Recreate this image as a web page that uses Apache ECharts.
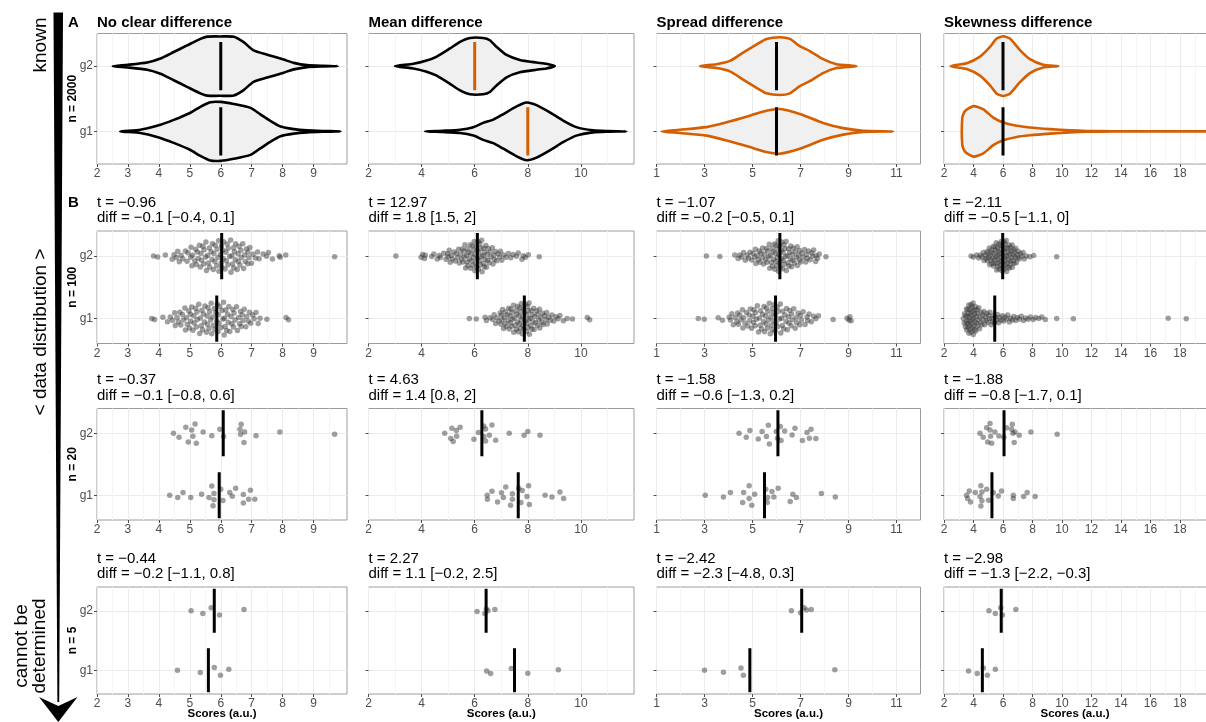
<!DOCTYPE html>
<html><head><meta charset="utf-8">
<script src="https://cdn.jsdelivr.net/npm/echarts@6/dist/echarts.min.js"></script>
<style>html,body{margin:0;padding:0;background:#fff}#c{width:1206px;height:722px}</style>
</head><body><div id="c"></div><script>
// ================= DATA =================
const panelTitles = ['No clear difference','Mean difference','Spread difference','Skewness difference'];
const groupNames = ['g1','g2'];
const sampleSizeLabels = ['n = 2000','n = 100','n = 20','n = 5'];
const xTickLabelsC1 = [2,3,4,5,6,7,8,9];
const xTickLabelsC2 = [2,4,6,8,10];
const xTickLabelsC3 = [1,3,5,7,9,11];
const xTickLabelsC4 = [2,4,6,8,10,12,14,16,18];

// Violin outlines, n = 2000 (score value, half-width in group units)
const violinC1G1X = [2.75,3.4,3.94,4.48,5.02,5.34,5.66,5.99,6.42,6.96,7.28,7.6,7.93,8.36,8.79,9.3,9.87];
const violinC1G1W = [0,0.025,0.085,0.176,0.286,0.377,0.447,0.452,0.42,0.36,0.261,0.161,0.075,0.035,0.015,0.006,0];
const violinC1G2X = [2.51,3.0,3.62,4.05,4.48,4.91,5.34,5.56,6.0,6.42,6.74,7.06,7.5,8.03,8.36,8.79,9.3,9.78];
const violinC1G2W = [0,0.02,0.055,0.116,0.216,0.317,0.417,0.452,0.455,0.45,0.367,0.241,0.176,0.1,0.05,0.015,0.005,0];
const violinC2G1X = [4.13,4.82,5.45,5.95,6.32,6.7,7.08,7.58,7.95,8.33,8.83,9.33,9.83,10.46,11.0,11.71];
const violinC2G1W = [0,0.01,0.025,0.065,0.13,0.18,0.266,0.382,0.442,0.402,0.291,0.166,0.065,0.015,0.005,0];
const violinC2G2X = [3.0,3.69,4.19,4.57,5.07,5.45,5.82,6.32,6.57,6.82,7.2,7.7,8.32,8.7,9.02];
const violinC2G2W = [0,0.035,0.085,0.146,0.271,0.372,0.432,0.432,0.397,0.297,0.171,0.095,0.055,0.035,0];
const violinC3G1X = [1.21,1.97,3.08,3.92,4.89,5.58,6.14,6.97,7.94,8.78,9.61,10.86];
const violinC3G1W = [0,0.025,0.065,0.14,0.241,0.317,0.342,0.266,0.13,0.05,0.01,0];
const violinC3G2X = [2.81,3.5,4.06,4.61,5.17,5.58,6.14,6.56,6.97,7.39,7.94,8.5,9.33];
const violinC3G2W = [0,0.03,0.08,0.206,0.332,0.417,0.442,0.417,0.307,0.231,0.106,0.03,0];
const violinC4G1X = [3.24,3.42,3.99,4.67,5.34,6.02,6.93,7.83,9.19,10.54,11.67,13.5,25];
const violinC4G1W = [0.21,0.31,0.387,0.337,0.211,0.136,0.085,0.06,0.035,0.015,0.006,0.003,0];
const violinC4G2X = [2.45,3.54,4.44,5.12,5.57,6.02,6.47,7.15,7.83,8.73,9.75];
const violinC4G2W = [0,0.045,0.146,0.296,0.422,0.457,0.422,0.246,0.106,0.02,0];
const medianA = [[6,6],[8,6],[6,6],[6,6]]; // [g1, g2] per column

// n = 100 scores
const n100C1G1 = [3.77,3.86,4.13,4.28,4.37,4.44,4.51,4.53,4.59,4.63,4.68,4.71,4.76,4.79,4.84,4.89,4.92,4.97,4.99,5.03,5.06,5.1,5.13,5.14,5.19,5.23,5.24,5.29,5.32,5.34,5.39,5.41,5.44,5.47,5.49,5.54,5.57,5.59,5.62,5.64,5.67,5.71,5.73,5.76,5.79,5.81,5.84,5.87,5.89,5.92,5.94,5.97,6.01,6.04,6.07,6.09,6.12,6.16,6.19,6.22,6.26,6.29,6.33,6.36,6.39,6.43,6.46,6.51,6.54,6.58,6.61,6.64,6.69,6.72,6.76,6.81,6.84,6.89,6.93,6.97,7.03,7.08,7.14,7.21,7.27,7.49,8.11,8.19,5.02,5.56,6.11,5.69,6.41,5.21,6.24,4.86,6.66,5.91,6.14,5.37];
const n100C1G2 = [3.83,3.96,4.21,4.43,4.49,4.57,4.61,4.72,4.77,4.86,4.91,4.94,5.03,5.07,5.09,5.16,5.19,5.21,5.27,5.31,5.34,5.36,5.42,5.45,5.46,5.51,5.52,5.58,5.6,5.63,5.64,5.69,5.72,5.73,5.78,5.81,5.82,5.87,5.88,5.93,5.94,5.99,6.02,6.03,6.08,6.09,6.14,6.17,6.18,6.23,6.24,6.29,6.32,6.33,6.38,6.41,6.42,6.47,6.48,6.53,6.56,6.57,6.62,6.65,6.66,6.71,6.74,6.77,6.79,6.83,6.87,6.91,6.94,6.99,7.04,7.12,7.19,7.24,7.37,7.48,7.54,7.67,7.89,7.92,8.1,9.68,5.38,5.76,6.06,6.36,5.54,6.21,5.91,6.59,5.04,6.88,5.24,6.44,4.66,6.01];
const n100C2G1 = [5.8,6.06,6.39,6.44,6.58,6.68,6.73,6.79,6.84,6.91,6.96,7.01,7.05,7.09,7.12,7.16,7.19,7.23,7.26,7.3,7.33,7.36,7.39,7.42,7.46,7.49,7.52,7.55,7.58,7.61,7.64,7.67,7.7,7.73,7.76,7.79,7.82,7.85,7.88,7.91,7.94,7.97,8.0,8.03,8.06,8.09,8.12,8.15,8.19,8.22,8.26,8.29,8.33,8.37,8.41,8.45,8.49,8.53,8.58,8.63,8.68,8.73,8.79,8.85,8.91,8.98,9.06,9.14,9.21,9.34,9.48,9.68,10.24,10.33,7.4,7.75,8.05,7.57,7.96,8.17,7.28,8.36,7.68,7.84,7.14,8.55,7.99,7.47,8.24,7.03,8.71,7.9,7.62,8.02,6.99,8.44,7.81,7.35,8.13,7.72];
const n100C2G2 = [3.03,3.98,4.04,4.11,4.14,4.38,4.59,4.66,4.71,4.83,4.92,4.98,5.04,5.08,5.16,5.22,5.27,5.31,5.36,5.42,5.47,5.51,5.56,5.59,5.63,5.66,5.71,5.73,5.77,5.8,5.83,5.86,5.88,5.91,5.93,5.96,5.98,6.01,6.03,6.06,6.08,6.11,6.13,6.16,6.18,6.21,6.23,6.26,6.28,6.31,6.34,6.36,6.39,6.42,6.44,6.47,6.51,6.54,6.58,6.61,6.66,6.69,6.74,6.78,6.83,6.88,6.94,7.02,7.09,7.18,7.27,7.36,7.45,7.57,7.64,7.78,7.83,7.91,8.02,8.43,5.74,6.02,6.19,5.94,6.33,5.61,6.09,6.49,5.39,6.24,5.12,6.72,5.85,6.14,5.53,4.46,5.0,6.37,5.69,6.97];
const n100C3G1 = [2.74,2.99,3.57,3.75,4.03,4.08,4.14,4.2,4.28,4.35,4.41,4.47,4.52,4.58,4.63,4.69,4.75,4.8,4.86,4.91,4.96,5.02,5.06,5.11,5.16,5.2,5.25,5.29,5.33,5.38,5.42,5.46,5.5,5.54,5.58,5.62,5.66,5.7,5.74,5.78,5.82,5.86,5.9,5.94,5.98,6.03,6.07,6.12,6.16,6.21,6.26,6.3,6.35,6.4,6.45,6.5,6.55,6.61,6.66,6.72,6.78,6.84,6.9,6.97,7.04,7.11,7.19,7.27,7.36,7.45,7.55,7.64,7.75,8.36,8.94,9.02,9.06,9.11,5.64,5.88,6.05,5.48,6.24,5.32,6.42,5.76,6.63,5.12,4.88,6.82,5.96,4.6,7.0,5.56,6.18,4.38,7.3,5.04,6.52,5.84];
const n100C3G2 = [3.08,3.64,4.26,4.4,4.47,4.55,4.63,4.7,4.78,4.84,4.9,4.97,5.02,5.09,5.14,5.2,5.24,5.31,5.35,5.4,5.46,5.49,5.55,5.58,5.63,5.67,5.7,5.74,5.78,5.81,5.85,5.88,5.91,5.95,5.98,6.01,6.04,6.07,6.1,6.13,6.16,6.19,6.22,6.25,6.28,6.31,6.35,6.38,6.41,6.45,6.48,6.52,6.55,6.59,6.63,6.66,6.7,6.74,6.78,6.83,6.87,6.92,6.96,7.01,7.06,7.11,7.17,7.22,7.28,7.34,7.4,7.47,7.55,7.63,7.71,7.78,8.06,6.12,5.93,6.33,5.72,6.5,6.02,6.21,5.6,6.68,5.83,6.4,6.08,5.97,7.25,6.86,5.28,7.5,6.27,5.12,6.95,7.65,5.42,6.6];
const n100C4G1 = [3.31,3.37,3.39,3.45,3.46,3.51,3.52,3.57,3.58,3.62,3.63,3.67,3.68,3.72,3.73,3.76,3.79,3.8,3.83,3.86,3.87,3.91,3.92,3.96,3.97,4.01,4.03,4.07,4.09,4.13,4.15,4.19,4.21,4.26,4.28,4.33,4.36,4.41,4.44,4.49,4.52,4.57,4.61,4.66,4.7,4.76,4.8,4.86,4.9,4.97,5.01,5.08,5.12,5.19,5.24,5.31,5.36,5.43,5.48,5.56,5.62,5.71,5.78,5.87,5.95,6.05,6.13,6.23,6.32,6.43,6.52,6.63,6.73,6.86,6.97,7.11,7.24,7.39,7.54,7.71,7.86,8.05,8.22,8.43,8.63,8.87,9.64,10.77,17.2,18.42,3.54,3.69,3.84,3.99,4.12,4.27,3.61,3.77,3.94,4.08];
const n100C4G2 = [3.83,3.99,4.22,4.35,4.46,4.58,4.66,4.72,4.79,4.86,4.92,4.98,5.03,5.08,5.13,5.18,5.22,5.26,5.31,5.35,5.38,5.42,5.46,5.5,5.53,5.57,5.6,5.63,5.67,5.7,5.74,5.77,5.8,5.84,5.87,5.9,5.93,5.96,5.99,6.02,6.05,6.08,6.11,6.14,6.18,6.21,6.24,6.27,6.31,6.34,6.37,6.41,6.44,6.48,6.51,6.55,6.59,6.63,6.67,6.71,6.75,6.8,6.85,6.9,6.96,7.03,7.1,7.19,7.28,7.36,7.44,7.58,7.82,8.08,9.64,5.95,6.06,5.72,6.28,5.55,6.47,5.88,6.16,5.45,6.62,6.0,5.25,6.84,5.66,6.38,5.1,6.22,5.82,6.53,4.95,6.12,5.36,6.73,5.62,7.0];

// n = 20 scores and read vertical jitter (group units)
const n20C1G1 = [4.35,4.61,4.78,5.03,5.38,5.62,5.71,5.78,5.78,5.75,6.00,6.07,6.29,6.37,6.48,6.73,6.73,6.96,6.90,7.10];
const n20C1G1Jit = [0,-0.038,0.043,-0.038,0.016,-0.038,0.15,0.027,-0.075,-0.17,0.097,-0.086,0.043,-0.016,0.113,0.01,-0.124,0.08,-0.065,-0.065];
const n20C1G2 = [4.47,4.65,4.87,4.95,5.06,5.10,5.17,5.21,5.43,5.71,5.97,6.09,6.66,6.62,6.64,6.75,6.77,7.14,7.91,9.68];
const n20C1G2Jit = [0,-0.065,0.097,-0.14,0.054,-0.048,0.15,-0.16,0.02,-0.038,0.065,-0.054,0.145,0.065,-0.016,-0.15,0.02,-0.038,0.02,-0.016];
const n20C2G1 = [6.47,6.48,6.65,6.86,7.01,7.08,7.17,7.42,7.42,7.35,7.66,7.79,7.74,8.03,7.97,8.06,8.65,8.91,9.21,9.35];
const n20C2G1Jit = [0,-0.065,0.065,-0.108,0.038,-0.038,0.134,0.022,-0.065,-0.161,0.113,0.075,-0.118,0.151,-0.022,-0.151,0,-0.027,0.054,-0.054];
const n20C2G2 = [4.87,5.10,5.14,5.19,5.31,5.32,5.45,5.97,6.14,6.34,6.41,6.41,6.34,6.55,6.65,6.79,7.30,7.86,8.00,8.46];
const n20C2G2Jit = [0,-0.086,0.081,-0.134,0.043,-0.048,0.097,-0.097,0.011,0.118,0.07,-0.124,-0.054,-0.032,0.134,-0.113,0,-0.032,0.027,-0.032];
const n20C3G1 = [3.03,3.79,4.08,4.63,4.86,4.86,4.59,5.09,4.97,5.55,5.61,5.63,5.81,5.89,6.07,6.57,6.68,6.83,7.87,8.45];
const n20C3G1Jit = [0,-0.027,0.043,0.043,0.151,-0.054,-0.118,0.016,-0.161,0.097,-0.118,-0.038,0.059,-0.027,0.113,-0.102,0.016,-0.038,0.027,-0.027];
const n20C3G2 = [4.44,4.74,4.89,5.24,5.40,5.58,5.66,5.70,5.99,6.04,6.16,6.19,6.34,6.65,6.77,7.08,7.27,7.44,7.37,7.64];
const n20C3G2Jit = [0,-0.065,0.043,-0.091,0.027,-0.054,0.129,-0.172,0.027,-0.081,0.108,-0.118,0.038,-0.027,0.081,-0.118,0.011,0.065,-0.081,-0.086];
const n20C4G1 = [3.53,3.60,3.71,3.80,4.12,4.44,4.50,4.57,4.57,4.50,4.89,5.02,5.34,5.68,5.90,6.70,6.70,7.40,7.64,8.18];
const n20C4G1Jit = [0,-0.054,0.07,-0.108,0.043,-0.022,0.151,0.054,-0.091,-0.172,0.097,-0.081,0.043,-0.011,0.07,0,-0.054,-0.022,0.043,-0.022];
const n20C4G2 = [4.44,4.66,4.89,4.96,5.12,5.12,5.16,5.23,5.45,5.72,6.06,6.58,6.63,6.67,6.76,6.81,7.10,7.89,9.67,6.24];
const n20C4G2Jit = [0,-0.065,0.091,-0.14,0.156,0.054,-0.048,-0.161,0.022,-0.043,-0.065,0.065,0.145,0,-0.15,0.022,-0.032,0.022,-0.016,0.091];

// n = 5 scores and read vertical jitter
const n5C1G1 = [4.60,5.34,5.79,5.99,6.26];  const n5C1G1Jit = [0,-0.039,0.045,-0.084,0.017];
const n5C1G2 = [5.04,5.42,5.69,5.96,6.75];  const n5C1G2Jit = [0,-0.045,0.051,-0.073,0.022];
const n5C2G1 = [6.45,6.60,7.38,8.00,9.15];  const n5C2G1Jit = [-0.011,-0.056,0.028,-0.051,0.006];
const n5C2G2 = [6.09,6.38,6.44,6.50,6.76];  const n5C2G2Jit = [-0.011,-0.045,0.028,0,0.022];
const n5C3G1 = [3.00,3.79,4.52,4.62,8.43];  const n5C3G1Jit = [0,-0.034,0.039,-0.084,0.006];
const n5C3G2 = [6.62,7.00,7.15,7.25,7.45];  const n5C3G2Jit = [0,-0.034,0.051,0.011,0.022];
const n5C4G1 = [3.66,4.25,4.67,4.94,5.48];  const n5C4G1Jit = [-0.011,-0.056,0.039,-0.084,0.017];
const n5C4G2 = [5.05,5.48,5.85,5.96,6.87];  const n5C4G2Jit = [0,-0.045,0.051,-0.073,0.022];

// group means drawn as bars, [g1, g2] per column
const meanN100 = [[5.87,6.03],[7.87,6.10],[5.96,6.14],[5.44,5.98]];
const meanN20  = [[5.95,6.08],[7.64,6.27],[5.50,6.06],[5.25,6.07]];
const meanN5   = [[5.60,5.79],[7.50,6.43],[4.89,7.05],[4.60,5.88]];

// test statistics text
const statT100 = ['t = \u22120.96','t = 12.97','t = \u22121.07','t = \u22122.11'];
const statD100 = ['diff = \u22120.1 [\u22120.4, 0.1]','diff = 1.8 [1.5, 2]','diff = \u22120.2 [\u22120.5, 0.1]','diff = \u22120.5 [\u22121.1, 0]'];
const statT20 = ['t = \u22120.37','t = 4.63','t = \u22121.58','t = \u22121.88'];
const statD20 = ['diff = \u22120.1 [\u22120.8, 0.6]','diff = 1.4 [0.8, 2]','diff = \u22120.6 [\u22121.3, 0.2]','diff = \u22120.8 [\u22121.7, 0.1]'];
const statT5 = ['t = \u22120.44','t = 2.27','t = \u22122.42','t = \u22122.98'];
const statD5 = ['diff = \u22120.2 [\u22121.1, 0.8]','diff = 1.1 [\u22120.2, 2.5]','diff = \u22122.3 [\u22124.8, 0.3]','diff = \u22121.3 [\u22122.2, \u22120.3]'];

// ================= LAYOUT / STYLE =================
const FONT = '"Liberation Sans", Arial, Helvetica, sans-serif';
const ORANGE = '#D55E00';
const cols = [{left:97,width:250},{left:368.5,width:265.5},{left:656.5,width:264},{left:944,width:265.5}];
const rows = [{top:33.5,height:130.5,ymin:0.5,ymax:2.5},{top:231,height:112.5,ymin:0.6,ymax:2.4},{top:408.5,height:111.5,ymin:0.6,ymax:2.4},{top:587,height:107,ymin:0.6,ymax:2.4}];
const axCfg = [
  {min:2,max:10.08,interval:1,labels:xTickLabelsC1},
  {min:2,max:12,interval:2,labels:xTickLabelsC2},
  {min:1,max:12,interval:2,labels:xTickLabelsC3},
  {min:2,max:20,interval:2,labels:xTickLabelsC4}
];
const VX = [[violinC1G1X,violinC1G2X],[violinC2G1X,violinC2G2X],[violinC3G1X,violinC3G2X],[violinC4G1X,violinC4G2X]];
const VW = [[violinC1G1W,violinC1G2W],[violinC2G1W,violinC2G2W],[violinC3G1W,violinC3G2W],[violinC4G1W,violinC4G2W]];
const violinStroke = ['#000','#000',ORANGE,ORANGE];
const medianColor = ['#000',ORANGE,'#000','#000'];
const n100 = [[n100C1G1,n100C1G2],[n100C2G1,n100C2G2],[n100C3G1,n100C3G2],[n100C4G1,n100C4G2]];
const n20 = [[n20C1G1,n20C1G2],[n20C2G1,n20C2G2],[n20C3G1,n20C3G2],[n20C4G1,n20C4G2]];
const n20J = [[n20C1G1Jit,n20C1G2Jit],[n20C2G1Jit,n20C2G2Jit],[n20C3G1Jit,n20C3G2Jit],[n20C4G1Jit,n20C4G2Jit]];
const n5 = [[n5C1G1,n5C1G2],[n5C2G1,n5C2G2],[n5C3G1,n5C3G2],[n5C4G1,n5C4G2]];
const n5J = [[n5C1G1Jit,n5C1G2Jit],[n5C2G1Jit,n5C2G2Jit],[n5C3G1Jit,n5C3G2Jit],[n5C4G1Jit,n5C4G2Jit]];
const means = [null, meanN100, meanN20, meanN5];
const statsT = [null, statT100, statT20, statT5];
const statsD = [null, statD100, statD20, statD5];

// quasirandom (beeswarm-like) layout for the dense n = 100 panels
function vdc(n){let v=0,d=1;while(n>0){d*=2;v+=(n%2)/d;n=Math.floor(n/2);}return v;}
function quasiLayout(vals, maxHalf){
  const n=vals.length, s=vals.slice().sort((a,b)=>a-b);
  const mean=vals.reduce((a,b)=>a+b,0)/n;
  const sd=Math.sqrt(vals.reduce((a,b)=>a+(b-mean)*(b-mean),0)/(n-1));
  const iqr=s[Math.floor(0.75*n)]-s[Math.floor(0.25*n)];
  const bw=0.5*0.9*Math.min(sd,iqr/1.34)*Math.pow(n,-0.2);
  const dens=vals.map(v=>vals.reduce((a,w)=>a+Math.exp(-0.5*((v-w)/bw)*((v-w)/bw)),0));
  const mx=Math.max(...dens);
  const idx=vals.map((v,i)=>i).sort((a,b)=>vals[a]-vals[b]);
  const rank=new Array(n); idx.forEach((k,r)=>rank[k]=r);
  return vals.map((v,i)=>(vdc(rank[i]+1)-0.5)*2*maxHalf*dens[i]/mx);
}

const grids=[],xAxes=[],yAxes=[],series=[];
rows.forEach((r,ri)=>{
  cols.forEach((c,ci)=>{
    const gi=grids.length;
    grids.push({left:c.left,top:r.top,width:c.width,height:r.height,show:true,borderColor:'#9c9c9c',borderWidth:1,backgroundColor:'#fff',containLabel:false,outerBoundsMode:'none'});
    const a=axCfg[ci];
    xAxes.push({type:'value',gridIndex:gi,min:a.min,max:a.max,interval:a.interval,
      axisLine:{show:false},
      axisTick:{show:true,length:3,lineStyle:{color:'#4d4d4d',width:1},customValues:a.labels},
      axisLabel:{show:true,customValues:a.labels,color:'#4d4d4d',fontSize:12,fontFamily:FONT,margin:4,formatter:v=>String(v)},
      splitLine:{show:true,lineStyle:{color:'#ebebeb',width:1}},
      minorTick:{show:false,splitNumber:2},
      minorSplitLine:{show:true,lineStyle:{color:'#f4f4f4',width:1}}
    });
    yAxes.push({type:'value',gridIndex:gi,min:r.ymin,max:r.ymax,
      axisLine:{show:false},
      axisTick:{show:true,length:3,lineStyle:{color:'#4d4d4d',width:1},customValues:[1,2]},
      axisLabel:{show:ci===0,customValues:[1,2],color:'#4d4d4d',fontSize:12,fontFamily:FONT,margin:4,formatter:v=>groupNames[Math.round(v)-1]},
      splitLine:{show:true,lineStyle:{color:'#ebebeb',width:1}},
      minorSplitLine:{show:false}
    });
    const barColor = ri===0 ? medianColor[ci] : '#000';
    const mvals = ri===0 ? medianA[ci] : means[ri][ci];
    if(ri===0){
      series.push({type:'custom',xAxisIndex:gi,yAxisIndex:gi,clip:true,z:3,silent:true,
        data:[[mvals[0],1,0],[mvals[1],2,1]],encode:{x:0,y:1},
        renderItem:(p,api)=>{
          const g=api.value(1),k=api.value(2),X=VX[ci][k],W=VW[ci][k],pts=[];
          for(let i=0;i<X.length;i++) pts.push(api.coord([X[i],g+W[i]]));
          for(let i=X.length-1;i>=0;i--) if(W[i]>0) pts.push(api.coord([X[i],g-W[i]]));
          return {type:'polygon',shape:{points:pts,smooth:0.2},style:{fill:'#f0f0f0',stroke:violinStroke[ci],lineWidth:2.6,lineJoin:'round'}};
        }});
    } else {
      const pts=[];
      [0,1].forEach(g=>{
        let vals,jit;
        if(ri===1){vals=n100[ci][g];jit=quasiLayout(vals,0.27);}
        else if(ri===2){vals=n20[ci][g];jit=n20J[ci][g];}
        else {vals=n5[ci][g];jit=n5J[ci][g];}
        vals.forEach((v,i)=>pts.push([v,g+1+jit[i]]));
      });
      series.push({type:'scatter',xAxisIndex:gi,yAxisIndex:gi,z:2,silent:true,symbol:'circle',symbolSize:5.5,
        itemStyle:{color:'rgba(55,55,55,0.6)',borderWidth:0},data:pts});
    }
    series.push({type:'custom',xAxisIndex:gi,yAxisIndex:gi,clip:true,z:4,silent:true,
      data:[[mvals[0],1],[mvals[1],2]],encode:{x:0,y:1},
      renderItem:(p,api)=>{
        const x=api.value(0),g=api.value(1);
        const p1=api.coord([x,g-0.37]),p2=api.coord([x,g+0.37]);
        return {type:'line',shape:{x1:p1[0],y1:p1[1],x2:p2[0],y2:p2[1]},style:{stroke:barColor,lineWidth:3}};
      }});
  });
});

// ---------- text & decorations ----------
const G=[];
function txt(t,x,y,font,opt){G.push(Object.assign({type:'text',x:x,y:y,silent:true,style:{text:t,font:font,fill:'#000',align:'left',verticalAlign:'middle'}},opt||{}));}
panelTitles.forEach((t,ci)=>txt(t,cols[ci].left,23,'bold 15px '+FONT));
txt('A',68,23,'bold 15px '+FONT);
txt('B',68,202.5,'bold 15px '+FONT);
for(let ri=1;ri<4;ri++){
  cols.forEach((c,ci)=>{
    txt(statsT[ri][ci],c.left,rows[ri].top-28.5,'15px '+FONT);
    txt(statsD[ri][ci],c.left,rows[ri].top-13,'15px '+FONT);
  });
}
rows.forEach((r,ri)=>{
  G.push({type:'text',x:73,y:r.top+r.height/2,rotation:Math.PI/2,silent:true,style:{text:sampleSizeLabels[ri],font:'bold 12px '+FONT,fill:'#000',align:'center',verticalAlign:'middle'}});
});
cols.forEach((c,ci)=>{
  const cx = ci===3 ? 1075 : c.left+c.width/2;
  G.push({type:'text',x:cx,y:714,silent:true,style:{text:'Scores (a.u.)',font:'bold 11.5px '+FONT,fill:'#000',align:'center',verticalAlign:'middle'}});
});
function rtxt(t,x,y){G.push({type:'text',x:x,y:y,rotation:Math.PI/2,silent:true,style:{text:t,font:'19px '+FONT,fill:'#000',align:'center',verticalAlign:'middle'}});}
rtxt('known',41,45);
rtxt('< data distribution >',41,332);
rtxt('cannot be',22,646);
rtxt('determined',40,646);
G.push({type:'polygon',silent:true,shape:{points:[[53.5,12.5],[63,12.5],[59.2,702],[57.4,702]]},style:{fill:'#000'}});
G.push({type:'polygon',silent:true,shape:{points:[[39,697],[58.3,706],[77.5,697],[58.3,722]]},style:{fill:'#000'}});

const chart=echarts.init(document.getElementById('c'),null,{renderer:'canvas'});
chart.setOption({animation:false,backgroundColor:'#fff',grid:grids,xAxis:xAxes,yAxis:yAxes,series:series,graphic:G});
</script></body></html>
